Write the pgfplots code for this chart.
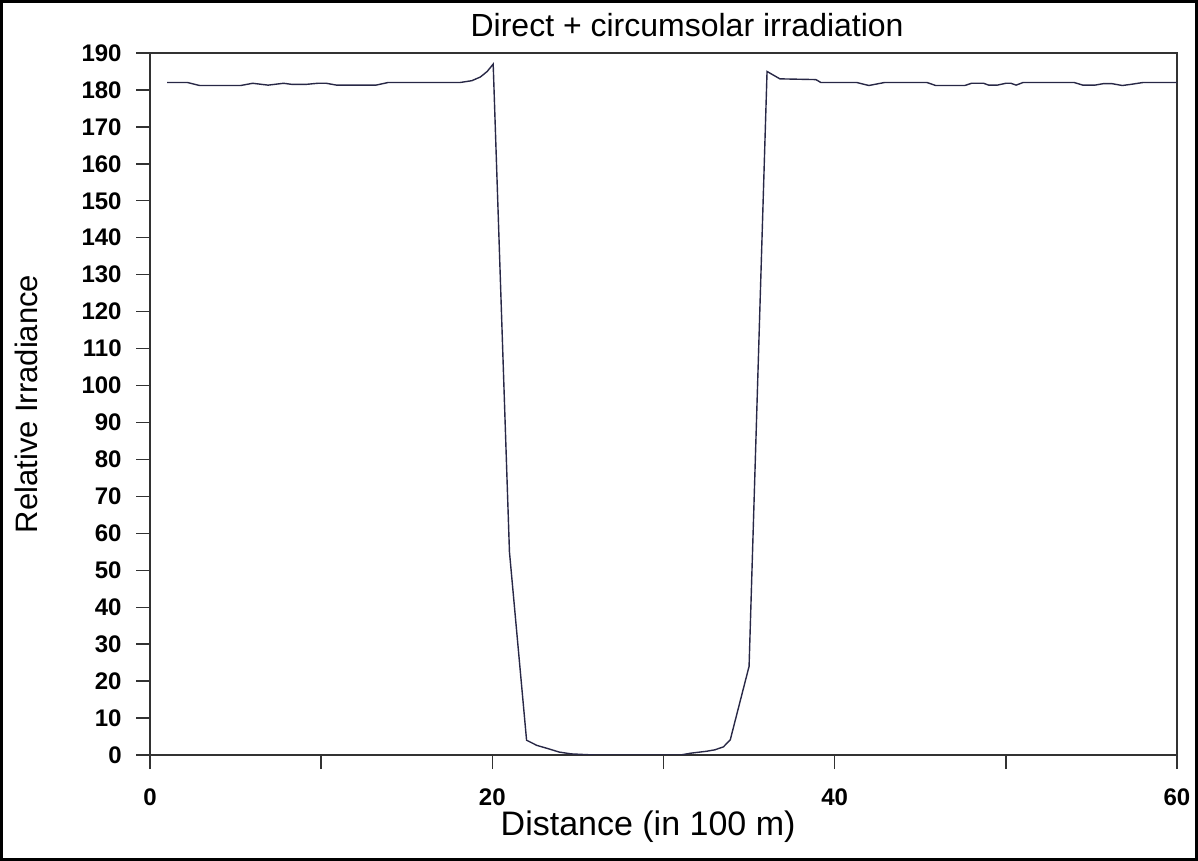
\documentclass[border=0pt]{standalone}
\usepackage{fontspec}
\setmainfont{Liberation Sans}
\usepackage{pgfplots}
\pgfplotsset{compat=1.18}
\definecolor{curve}{RGB}{40,40,70}
\definecolor{axline}{RGB}{50,50,50}

\begin{document}
\begin{tikzpicture}
\useasboundingbox (0,0) rectangle (599pt,430.5pt);
\draw[line width=1.5pt] (0.75pt,0.75pt) rectangle (598.25pt,429.75pt);
\begin{axis}[
  at={(75pt,53pt)}, anchor=south west,
  scale only axis, width=513.5pt, height=351pt,
  xmin=0, xmax=60, ymin=0, ymax=190,
  xtick={0,10,...,60}, xticklabels={0,,20,,40,,60},
  ytick={0,10,...,190},
  tick pos=left, tick align=outside,
  major tick length=7pt,
  axis line style={axline, line width=0.7pt},
  tick style={axline, line width=0.7pt},
  /pgf/number format/assume math mode=true,
  ticklabel style={font=\fontsize{12}{14}\selectfont\bfseries},
  xticklabel style={anchor=center, yshift=-14pt, inner sep=0pt},
  yticklabel style={anchor=east, xshift=-7pt, inner sep=0pt},
  title={Direct + circumsolar irradiation},
  title style={font=\fontsize{16}{19}\selectfont, at={(axis description cs:0.523,1)}, anchor=south, yshift=-1.5pt},
  xlabel={Distance (in 100 m)},
  xlabel style={font=\fontsize{17}{20}\selectfont, at={(axis description cs:0.485,-0.1026)}, anchor=center},
  ylabel={Relative Irradiance},
  ylabel style={font=\fontsize{15.5}{18}\selectfont, at={(axis description cs:-0.12,0.5)}, anchor=center},
]
\addplot[curve, line width=0.7pt, mark=none] coordinates {
(1,182) (2.2,182) (2.9,181.2) (5.3,181.2) (6,181.8) (6.9,181.3) (7.8,181.8)
(8.3,181.5) (9.1,181.5) (9.8,181.8) (10.3,181.8) (10.9,181.3) (13.2,181.3)
(13.9,182) (18.1,182) (18.8,182.5) (19.3,183.5) (19.7,185) (20.05,187)
(21,55) (22,4) (22.6,2.6) (23.2,1.8) (23.9,0.8) (24.6,0.3) (25.5,0.1)
(26,0) (29,0) (31,0) (31.6,0.5) (32.5,1) (33,1.4) (33.5,2.2) (33.9,4.1)
(35,24) (36.05,185) (36.8,183) (38.9,182.8) (39.2,182) (41.3,182) (42,181.2)
(42.9,182) (45.4,182) (45.9,181.2) (47.6,181.2) (48,181.8) (48.7,181.8)
(49,181.3) (49.5,181.3) (50,181.8) (50.3,181.8) (50.6,181.3) (51,182)
(54,182) (54.5,181.3) (55.2,181.3) (55.7,181.7) (56.2,181.7) (56.8,181.2)
(57.3,181.5) (58,182) (60,182)
};
\end{axis}
\end{tikzpicture}
\end{document}
